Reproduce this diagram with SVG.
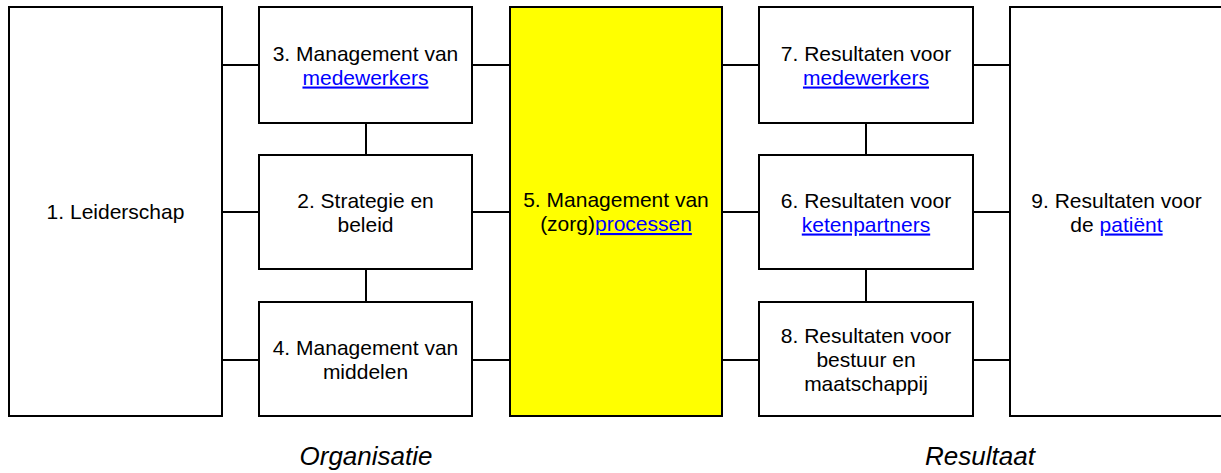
<svg xmlns="http://www.w3.org/2000/svg" width="1221" height="473" viewBox="0 0 1221 473">
<style>
.box{fill:#fff;stroke:#000;stroke-width:2}
.hl{fill:#ffff00;stroke:#000;stroke-width:2}
.t{font-family:"Liberation Sans",Arial,sans-serif;font-size:21px;fill:#000;text-anchor:middle}
.lk{fill:#0000ff;text-decoration:underline}
.cap{font-family:"Liberation Sans",Arial,sans-serif;font-size:26px;font-style:italic;fill:#000;text-anchor:middle}
.c{stroke:#000;stroke-width:2;fill:none}
</style>
<rect width="1221" height="473" fill="#fff"/>
<g id="connectors">
<path class="c" d="M222 65H259M472 65H510M722 65H759M973 65H1010"/>
<path class="c" d="M222 212H259M472 212H510M722 212H759M973 212H1010"/>
<path class="c" d="M222 360H259M472 360H510M722 360H759M973 360H1010"/>
<path class="c" d="M366 123V155M366 269V302M866 123V155M866 269V302"/>
</g>
<g id="n1"><rect class="box" x="9" y="7" width="213" height="409"/><text class="t" x="115.5" y="219">1. Leiderschap</text></g>
<g id="n3"><rect class="box" x="259" y="7" width="213" height="116"/><text class="t" x="365.5" y="60.5">3. Management van</text><text class="t" x="365.5" y="84.5"><tspan class="lk">medewerkers</tspan></text></g>
<g id="n2"><rect class="box" x="259" y="155" width="213" height="114"/><text class="t" x="365.5" y="207.5">2. Strategie en</text><text class="t" x="365.5" y="231.5">beleid</text></g>
<g id="n4"><rect class="box" x="259" y="302" width="213" height="114"/><text class="t" x="365.5" y="354.5">4. Management van</text><text class="t" x="365.5" y="378.5">middelen</text></g>
<g id="n5"><rect class="hl" x="510" y="7" width="212" height="409"/><text class="t" x="616" y="207">5. Management van</text><text class="t" x="616" y="231">(zorg)<tspan class="lk">processen</tspan></text></g>
<g id="n7"><rect class="box" x="759" y="7" width="214" height="116"/><text class="t" x="866" y="60.5">7. Resultaten voor</text><text class="t" x="866" y="84.5"><tspan class="lk">medewerkers</tspan></text></g>
<g id="n6"><rect class="box" x="759" y="155" width="214" height="114"/><text class="t" x="866" y="207.5">6. Resultaten voor</text><text class="t" x="866" y="231.5"><tspan class="lk">ketenpartners</tspan></text></g>
<g id="n8"><rect class="box" x="759" y="302" width="214" height="114"/><text class="t" x="866" y="342.5">8. Resultaten voor</text><text class="t" x="866" y="366.5">bestuur en</text><text class="t" x="866" y="390.5">maatschappij</text></g>
<g id="n9"><rect class="box" x="1010" y="7" width="215" height="409"/><text class="t" x="1116.5" y="207.5">9. Resultaten voor</text><text class="t" x="1116.5" y="231.5">de <tspan class="lk">patiënt</tspan></text></g>
<g id="labels"><text class="cap" x="366" y="465">Organisatie</text><text class="cap" x="980" y="465">Resultaat</text></g>
</svg>
